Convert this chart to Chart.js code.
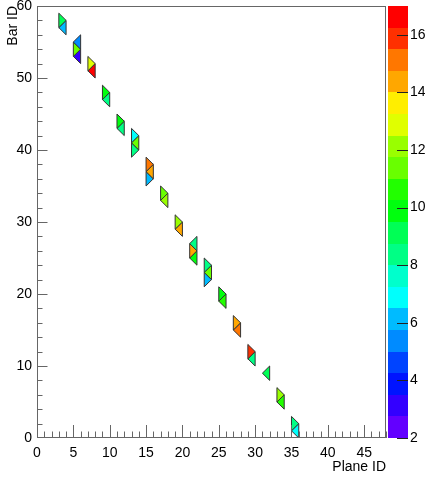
<!DOCTYPE html>
<html>
<head>
<meta charset="utf-8">
<script src="https://cdn.jsdelivr.net/npm/chart.js@4.4.0/dist/chart.umd.min.js"></script>
<style>
html,body{margin:0;padding:0;background:#fff;}
#wrap{width:425px;height:477px;}
</style>
</head>
<body>
<div id="wrap"><canvas id="c" width="425" height="477"></canvas></div>
<script>
// ---------- data ----------
const xAxisTitle = 'Plane ID';
const yAxisTitle = 'Bar ID';
const xTickLabels = [0, 5, 10, 15, 20, 25, 30, 35, 40, 45];
const yTickLabels = [0, 10, 20, 30, 40, 50, 60];
const zTickLabels = [2, 4, 6, 8, 10, 12, 14, 16];
const xRange = [0, 48];
const yRange = [0, 60];
const zRange = [2, 17];
const nContours = 20;

// triangular bins: plane (left edge), lowest bar of the vertical side,
// orientation (R = apex points right, L = apex points left), value
const triPlane  = [3, 3, 5, 5, 5, 7, 7, 9, 9, 11, 11, 13, 13, 13, 15, 15, 15, 17, 17, 19, 19, 21, 21, 21, 23, 23, 23, 25, 25, 27, 27, 29, 29, 31, 33, 33, 35, 35];
const triBarLow = [57, 56, 54, 53, 52, 51, 50, 47, 46, 43, 42, 41, 40, 39, 37, 36, 35, 33, 32, 29, 28, 26, 25, 24, 23, 22, 21, 19, 18, 15, 14, 11, 10, 8, 5, 4, 1, 0];
const triOrient = ['R','L','L','R','L','R','L','R','L','R','L','R','L','R','R','L','R','R','L','R','L','L','R','L','R','L','R','R','L','R','L','R','L','L','R','L','R','L'];
const triValue  = [9.1, 6.1, 5.4, 11.4, 3.1, 12.9, 16.6, 9.9, 8.4, 9.9, 8.4, 6.9, 11.4, 8.4, 15.1, 14.4, 6.1, 11.4, 12.1, 12.1, 14.4, 8.4, 14.4, 9.9, 8.4, 11.4, 6.1, 9.9, 10.6, 14.4, 15.1, 15.9, 8.4, 9.1, 12.1, 10.6, 8.4, 6.9];

// ---------- style ----------
const FONT = '"Liberation Sans", Arial, Helvetica, sans-serif';
const AXIS_COLOR = '#666';

// ROOT "pretty" palette (50 colours, violet -> red) sampled for 20 contours
function contourColor(j) {
  const idx = Math.floor((j + 0.99) * 50 / nContours);
  const hue = 280 - (idx + 1) * (280 / 50);
  return 'hsl(' + hue.toFixed(1) + ',100%,50%)';
}
function valueColor(v) {
  const step = (zRange[1] - zRange[0]) / nContours;
  let j = Math.floor((v - zRange[0]) / step);
  j = Math.max(0, Math.min(nContours - 1, j));
  return contourColor(j);
}

const datasets = triPlane.map((p, i) => {
  const b = triBarLow[i];
  const right = triOrient[i] === 'R';
  const xs = right ? p : p + 1;     // x of the vertical side
  const xa = right ? p + 1 : p;     // x of the apex
  return {
    type: 'line',
    data: [{x: xs, y: b}, {x: xs, y: b + 2}, {x: xa, y: b + 1}, {x: xs, y: b}],
    fill: 'shape',
    backgroundColor: valueColor(triValue[i]),
    borderColor: '#333',
    borderWidth: 1,
    pointRadius: 0,
    pointHoverRadius: 0,
    tension: 0,
    borderJoinStyle: 'miter'
  };
});

const framePlugin = {
  id: 'rootFrame',
  afterDatasetsDraw(chart) {
    const ctx = chart.ctx;
    const a = chart.chartArea;
    const xs = chart.scales.x, ys = chart.scales.y, zs = chart.scales.z;
    ctx.save();
    // palette
    const step = (zRange[1] - zRange[0]) / nContours;
    const pl = a.right + 2, pw = 20;
    for (let j = 0; j < nContours; j++) {
      const y1 = zs.getPixelForValue(zRange[0] + j * step);
      const y2 = zs.getPixelForValue(zRange[0] + (j + 1) * step);
      ctx.fillStyle = contourColor(j);
      ctx.fillRect(pl, Math.round(y2), pw, Math.round(y1) - Math.round(y2));
    }
    ctx.strokeStyle = '#222';
    ctx.lineWidth = 1;
    ctx.beginPath();
    zTickLabels.forEach(v => {
      const y = Math.round(zs.getPixelForValue(v)) + 0.5;
      ctx.moveTo(pl + pw, y); ctx.lineTo(pl + pw - 11, y);
    });
    ctx.stroke();

    // frame
    ctx.strokeStyle = AXIS_COLOR;
    ctx.lineWidth = 1;
    ctx.strokeRect(Math.round(a.left) + 0.5, Math.round(a.top) + 0.5,
                   Math.round(a.right - a.left) - 1, Math.round(a.bottom - a.top) - 1);
    // x ticks (inside, pointing up)
    ctx.beginPath();
    for (let v = xRange[0]; v <= xRange[1]; v += 1) {
      const x = Math.round(xs.getPixelForValue(v)) + 0.5;
      const len = (v % 5 === 0) ? 13 : 6.5;
      ctx.moveTo(x, a.bottom); ctx.lineTo(x, a.bottom - len);
    }
    // y ticks (inside, pointing right)
    for (let v = yRange[0] + 2; v <= yRange[1]; v += 2) {
      const y = Math.round(ys.getPixelForValue(v)) + 0.5;
      const len = (v % 10 === 0) ? 10.5 : 5.5;
      ctx.moveTo(a.left, y); ctx.lineTo(a.left + len, y);
    }
    ctx.stroke();
    ctx.restore();
  }
};

const tickFont = {family: FONT, size: 14};

new Chart(document.getElementById('c'), {
  type: 'line',
  data: {datasets},
  options: {
    responsive: false,
    animation: false,
    events: [],
    layout: {padding: {top: 6, left: 0, right: 0, bottom: 0}},
    plugins: {legend: {display: false}, tooltip: {enabled: false}, title: {display: false}},
    scales: {
      x: {
        type: 'linear', position: 'bottom', min: xRange[0], max: xRange[1],
        grid: {display: false, drawTicks: false}, border: {display: false},
        afterBuildTicks: s => { s.ticks = xTickLabels.map(v => ({value: v})); },
        ticks: {color: '#000', font: tickFont, padding: 7, maxRotation: 0, autoSkip: false,
                callback: v => String(v)},
        title: {display: true, text: xAxisTitle, align: 'end', color: '#000',
                font: tickFont, padding: {top: 0, bottom: 1}},
        afterFit: s => { s.height = 39; s.paddingLeft = 0; s.paddingRight = 0; }
      },
      y: {
        type: 'linear', position: 'left', min: yRange[0], max: yRange[1],
        grid: {display: false, drawTicks: false}, border: {display: false},
        afterBuildTicks: s => { s.ticks = yTickLabels.map(v => ({value: v})); },
        ticks: {color: '#000', font: tickFont, padding: 5, autoSkip: false,
                callback: v => String(v)},
        title: {display: true, text: yAxisTitle, align: 'end', color: '#000',
                font: tickFont, padding: {top: 5, bottom: 0}},
        afterFit: s => { s.width = 37; s.paddingTop = 0; s.paddingBottom = 0; }
      },
      z: {
        type: 'linear', position: 'right', min: zRange[0], max: zRange[1],
        grid: {display: false, drawTicks: false}, border: {display: false},
        afterBuildTicks: s => { s.ticks = zTickLabels.map(v => ({value: v})); },
        ticks: {color: '#000', font: tickFont, padding: 24, autoSkip: false,
                callback: v => String(v)},
        afterFit: s => { s.width = 39; s.paddingTop = 0; s.paddingBottom = 0; }
      }
    }
  },
  plugins: [framePlugin]
});
</script>
</body>
</html>
